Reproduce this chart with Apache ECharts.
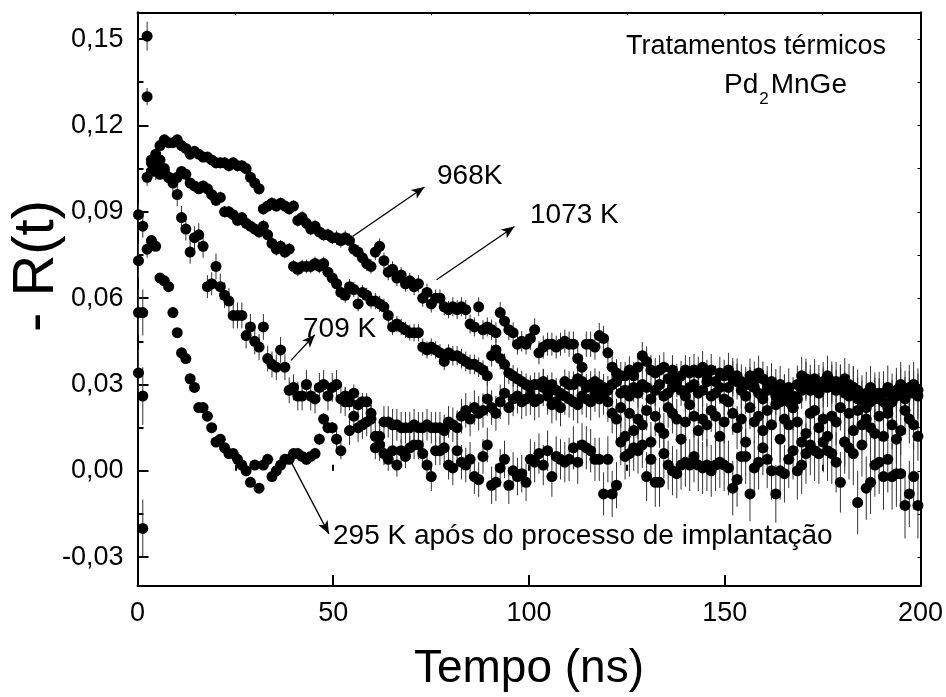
<!DOCTYPE html>
<html><head><meta charset="utf-8">
<script src="https://cdn.jsdelivr.net/npm/echarts@6/dist/echarts.min.js"></script>
<style>html,body{margin:0;padding:0;background:#fff}#c{width:946px;height:697px}</style>
</head><body><div id="c"></div>
<script>
// Time channels (ns)
const times = [
0.25,1.35,2.45,3.55,4.65,5.75,6.85,7.95,9.05,10.15,
11.25,12.35,13.45,14.55,15.65,16.75,17.85,18.95,20.05,21.15,
22.25,23.35,24.45,25.55,26.65,27.75,28.85,29.95,31.05,32.15,
33.25,34.35,35.45,36.55,37.65,38.75,39.85,40.95,42.05,43.15,
44.25,45.35,46.45,47.55,48.65,49.75,50.85,51.95,53.05,54.15,
55.25,56.35,57.45,58.55,59.65,60.75,61.85,62.95,64.05,65.15,
66.25,67.35,68.45,69.55,70.65,71.75,72.85,73.95,75.05,76.15,
77.25,78.35,79.45,80.55,81.65,82.75,83.85,84.95,86.05,87.15,
88.25,89.35,90.45,91.55,92.65,93.75,94.85,95.95,97.05,98.15,
99.25,100.35,101.45,102.55,103.65,104.75,105.85,106.95,108.05,109.15,
110.25,111.35,112.45,113.55,114.65,115.75,116.85,117.95,119.05,120.15,
121.25,122.35,123.45,124.55,125.65,126.75,127.85,128.95,130.05,131.15,
132.25,133.35,134.45,135.55,136.65,137.75,138.85,139.95,141.05,142.15,
143.25,144.35,145.45,146.55,147.65,148.75,149.85,150.95,152.05,153.15,
154.25,155.35,156.45,157.55,158.65,159.75,160.85,161.95,163.05,164.15,
165.25,166.35,167.45,168.55,169.65,170.75,171.85,172.95,174.05,175.15,
176.25,177.35,178.45,179.55,180.65,181.75,182.85,183.95,185.05,186.15,
187.25,188.35,189.45,190.55,191.65,192.75,193.85,194.95,196.05,197.15,
198.25,199.35];

// -R(t) values, 1073 K
const s1073 = [
0.055,-0.020,0.102,0.108,0.110,0.113,0.115,0.114,0.114,0.115,
0.113,0.112,0.110,0.111,0.110,0.109,0.109,0.108,0.107,0.107,
0.107,0.106,0.107,0.106,0.106,0.105,0.102,0.100,0.098,0.091,
0.092,0.093,0.092,0.093,0.092,0.091,0.092,0.087,0.088,0.086,
0.084,0.085,0.083,0.082,0.082,0.081,0.081,0.080,0.081,0.080,
0.077,0.076,0.074,0.072,0.071,0.076,0.078,0.073,0.069,0.070,
0.067,0.068,0.065,0.066,0.064,0.065,0.060,0.062,0.058,0.060,
0.060,0.057,0.056,0.057,0.056,0.057,0.056,0.051,0.050,0.057,
0.049,0.050,0.049,0.048,0.055,0.052,0.049,0.048,0.044,0.045,
0.044,0.046,0.049,0.041,0.043,0.044,0.044,0.043,0.044,0.045,
0.044,0.044,0.039,0.036,0.044,0.044,0.043,0.047,0.046,0.041,
0.036,0.034,0.033,0.033,0.035,0.033,0.036,0.040,0.038,0.035,
0.034,0.035,0.036,0.032,0.035,0.032,0.033,0.035,0.034,0.035,
0.034,0.036,0.033,0.035,0.031,0.034,0.033,0.035,0.032,0.033,
0.031,0.030,0.033,0.032,0.034,0.032,0.030,0.031,0.029,0.030,
0.027,0.024,0.022,0.025,0.028,0.031,0.030,0.032,0.030,0.031,
0.029,0.030,0.031,0.030,0.032,0.030,0.029,0.028,0.026,0.022,
0.024,0.027,0.025,0.027,0.029,0.024,0.026,0.028,0.025,0.027,
0.027,0.028];

// 968 K
const s968 = [
0.073,0.055,0.151,0.104,0.106,0.103,0.105,0.102,0.101,0.102,
0.104,0.103,0.100,0.099,0.098,0.099,0.098,0.096,0.094,0.095,
0.090,0.090,0.089,0.087,0.088,0.086,0.085,0.084,0.083,0.085,
0.082,0.079,0.077,0.078,0.076,0.077,0.071,0.070,0.071,0.071,
0.071,0.072,0.071,0.072,0.069,0.067,0.065,0.062,0.061,0.064,
0.063,0.058,0.062,0.061,0.059,0.059,0.058,0.057,0.054,0.050,
0.051,0.050,0.049,0.048,0.048,0.048,0.043,0.042,0.043,0.042,
0.041,0.038,0.041,0.040,0.040,0.039,0.038,0.037,0.037,0.036,
0.035,0.033,0.040,0.042,0.039,0.037,0.034,0.033,0.032,0.031,
0.030,0.029,0.030,0.030,0.031,0.029,0.030,0.028,0.027,0.031,
0.030,0.030,0.032,0.031,0.029,0.030,0.031,0.030,0.029,0.028,
0.030,0.031,0.027,0.028,0.026,0.029,0.027,0.030,0.029,0.025,
0.028,0.030,0.026,0.027,0.029,0.031,0.028,0.026,0.029,0.030,
0.027,0.028,0.031,0.026,0.027,0.029,0.025,0.029,0.033,0.031,
0.028,0.026,0.030,0.029,0.027,0.025,0.028,0.030,0.026,0.024,
0.027,0.029,0.026,0.030,0.033,0.032,0.028,0.030,0.027,0.029,
0.033,0.031,0.028,0.030,0.027,0.026,0.029,0.025,0.024,0.027,
0.029,0.025,0.027,0.024,0.022,0.026,0.028,0.030,0.027,0.029,
0.030,0.026];

// 709 K
const s709 = [
0.034,0.026,0.130,0.107,0.104,0.108,0.104,0.102,0.100,0.096,
0.088,0.084,0.076,0.081,0.082,0.078,0.064,0.065,0.071,0.064,
0.061,0.059,0.054,0.054,0.054,0.047,0.050,0.045,0.043,0.050,
0.039,0.037,0.036,0.042,0.036,0.028,0.029,0.026,0.026,0.030,
0.026,0.025,0.029,0.030,0.026,0.029,0.030,0.025,0.024,0.014,
0.019,0.015,0.016,0.017,0.018,0.012,0.009,0.017,0.017,0.016,
0.016,0.015,0.015,0.015,0.016,0.015,0.015,0.016,0.015,0.015,
0.015,0.014,0.017,0.016,0.015,0.019,0.021,0.018,0.022,0.020,
0.021,0.025,0.022,0.020,0.024,0.027,0.022,0.025,0.026,0.024,
0.025,0.026,0.024,0.025,0.029,0.026,0.023,0.024,0.022,0.026,
0.025,0.024,0.023,0.026,0.025,0.024,0.027,0.025,0.026,0.024,
0.020,0.018,0.022,0.012,0.020,0.014,0.018,0.016,0.021,0.010,
0.019,0.015,0.013,0.022,0.020,0.018,0.011,0.017,0.023,0.019,
0.014,0.018,0.016,0.021,0.019,0.012,0.017,0.024,0.020,0.015,
0.018,0.010,0.022,0.017,0.019,0.014,0.021,0.016,0.023,0.011,
0.018,0.016,0.022,0.017,0.010,0.013,0.020,0.021,0.015,0.018,
0.012,0.019,0.017,0.022,0.010,0.020,0.014,0.021,0.016,0.018,
0.015,0.013,0.019,0.012,0.020,0.016,0.011,0.014,0.021,0.018,
0.016,0.012];

// 295 K (after implantation)
const s295 = [
0.089,0.085,0.077,0.080,0.078,0.067,0.066,0.064,0.055,0.048,
0.041,0.039,0.032,0.029,0.022,0.022,0.019,0.015,0.010,0.011,
0.008,0.006,0.006,0.004,0.002,0.000,-0.004,0.002,-0.006,0.002,
0.004,-0.002,0.000,0.002,0.004,0.004,0.006,0.006,0.005,0.004,
0.005,0.006,0.011,0.018,0.015,0.015,0.011,0.007,0.026,0.024,
0.027,0.023,0.024,0.024,0.020,0.008,0.012,0.006,0.004,0.007,
0.002,0.007,0.005,0.008,0.009,0.009,0.006,0.002,-0.002,0.007,
0.007,0.008,0.002,0.001,0.007,0.003,0.002,0.004,-0.002,-0.003,
0.005,0.009,-0.005,-0.004,0.001,0.004,-0.005,0.000,-0.002,-0.001,
-0.004,0.004,0.003,0.006,0.002,0.007,-0.002,0.005,0.004,0.003,
0.004,0.008,0.003,0.009,0.008,0.007,0.004,0.004,-0.008,0.004,
-0.008,-0.005,0.010,0.005,0.006,0.008,0.007,0.009,-0.002,0.004,
-0.004,-0.004,0.006,0.002,0.000,-0.001,0.002,0.003,0.002,0.005,
0.002,0.001,0.002,0.000,0.002,0.003,0.002,0.001,-0.006,-0.003,
0.005,0.005,-0.008,0.001,0.003,0.008,0.004,0.000,-0.008,0.000,
-0.001,0.004,0.007,0.000,0.002,0.006,0.009,0.007,0.006,0.010,
0.007,0.006,0.003,-0.004,0.010,0.008,0.006,-0.011,0.009,-0.006,
-0.004,0.002,0.003,-0.002,0.004,-0.002,-0.001,-0.001,-0.012,-0.008,
-0.002,-0.012];

// Error half-widths: first channels, then per 10 ns block
const errEarly1073 = [0.008,0.010,0.003];
const errBlock1073 = [0.0018,0.0018,0.002,0.002,0.0022,0.0025,0.0028,0.003,0.0033,0.0036,0.004,0.0044,0.0048,0.0052,0.0056,0.006,0.0064,0.0068,0.0072,0.0076];
const errEarly968 = [0.006,0.008,0.005];
const errBlock968 = [0.0018,0.0018,0.002,0.0022,0.0024,0.0026,0.0028,0.003,0.0034,0.0038,0.0042,0.0046,0.005,0.0054,0.0058,0.0062,0.0066,0.007,0.0074,0.0078];
const errEarly709 = [0.008,0.010,0.003];
const errBlock709 = [0.003,0.004,0.0045,0.0045,0.005,0.005,0.0055,0.0055,0.006,0.006,0.0065,0.0065,0.007,0.007,0.0075,0.0075,0.008,0.008,0.0085,0.0085];
const errEarly295 = [0.004,0.004,0.003];
const errBlock295 = [0.0012,0.0012,0.0015,0.0018,0.002,0.003,0.004,0.005,0.006,0.0065,0.007,0.0075,0.008,0.0085,0.009,0.0095,0.01,0.0105,0.011,0.0115];

const yMajorTicks = [-0.03,0,0.03,0.06,0.09,0.12,0.15];
const yMinorTicks = [-0.015,0.015,0.045,0.075,0.105,0.135];

// Annotation arrows in data coordinates [t, value]
const arrows = [
  [[55.0,0.0815],[73.3,0.0986]],
  [[76.4,0.0664],[96.3,0.0849]],
  [[39.2,0.0384],[45.3,0.0473]],
  [[39.4,0.0027],[48.9,-0.0219]]
];

const FONT = '"Liberation Sans", Arial, Helvetica, sans-serif';

function build(vals, early, blocks){
  return vals.map((v,i)=>{
    const t = times[i];
    const e = i < early.length ? early[i] : blocks[Math.min(blocks.length-1, Math.floor(t/10))];
    return [t, v, e];
  });
}
const sets = [
  {name:'1073 K', d: build(s1073, errEarly1073, errBlock1073)},
  {name:'968 K', d: build(s968, errEarly968, errBlock968)},
  {name:'709 K', d: build(s709, errEarly709, errBlock709)},
  {name:'295 K', d: build(s295, errEarly295, errBlock295)}
];

const chart = echarts.init(document.getElementById('c'), null, {renderer:'canvas'});

const series = [];
sets.forEach(s=>{
  series.push({
    type:'custom', name:s.name+' err', xAxisIndex:0, yAxisIndex:0, z:1, clip:true,
    data:s.d, encode:{x:0,y:1},
    renderItem:function(params, api){
      const t=api.value(0), v=api.value(1), e=api.value(2);
      const p1=api.coord([t, v-e]), p2=api.coord([t, v+e]);
      return {type:'line', shape:{x1:p1[0],y1:p1[1],x2:p2[0],y2:p2[1]}, style:{stroke:'#333', lineWidth:1}};
    }
  });
});
sets.forEach(s=>{
  series.push({
    type:'scatter', name:s.name, xAxisIndex:0, yAxisIndex:0, z:3,
    data:s.d.map(p=>[p[0],p[1]]), symbol:'circle', symbolSize:11,
    itemStyle:{color:'#000', opacity:1}
  });
});
series.push({
  type:'scatter', name:'arrows', data:[], xAxisIndex:0, yAxisIndex:0, z:4,
  markLine:{silent:true, animation:false, symbol:['none','arrow'], symbolSize:[8,13],
    lineStyle:{color:'#000', width:1.3, type:'solid'}, label:{show:false},
    emphasis:{disabled:true},
    data: arrows.map(a=>[{coord:a[0]},{coord:a[1]}])}
});

const majorTickStyle = {color:'#000', width:2};
const fmt = v => v.toFixed(2).replace('.', ',');

function measure(text, size){
  const c = document.createElement('canvas').getContext('2d');
  c.font = size+'px '+FONT;
  return c.measureText(text).width;
}
const pdW = measure('Pd',28), subW = measure('2',17);

chart.setOption({
  animation:false,
  backgroundColor:'#fff',
  grid:{left:137.5, right:24.5, top:12.3, bottom:105, containLabel:false},
  xAxis:[
    {type:'value', position:'bottom', min:0, max:200, interval:50,
     axisLine:{show:true, onZero:false, lineStyle:{color:'#000', width:2}},
     axisTick:{show:true, inside:true, length:11, lineStyle:majorTickStyle},
     axisLabel:{show:true, color:'#000', fontSize:27, fontFamily:FONT, margin:14},
     splitLine:{show:false},
     name:'Tempo (ns)', nameLocation:'middle', nameGap:60,
     nameTextStyle:{color:'#000', fontSize:46, fontFamily:FONT}},
    {type:'value', position:'bottom', min:0, max:200, interval:25,
     axisLine:{show:false}, axisTick:{show:true, inside:true, length:6, lineStyle:majorTickStyle},
     axisLabel:{show:false}, splitLine:{show:false}},
    {type:'value', position:'top', min:0, max:200, interval:25,
     axisLine:{show:true, onZero:false, lineStyle:{color:'#000', width:2}},
     axisTick:{show:true, inside:true, length:3, lineStyle:{color:'#000', width:1}},
     axisLabel:{show:false}, splitLine:{show:false}}
  ],
  yAxis:[
    {type:'value', position:'left', min:-0.04, max:0.1593,
     axisLine:{show:true, onZero:false, lineStyle:{color:'#000', width:2}},
     axisTick:{show:true, inside:true, length:11, lineStyle:majorTickStyle, customValues:yMajorTicks},
     axisLabel:{show:true, color:'#000', fontSize:27, fontFamily:FONT, margin:14, customValues:yMajorTicks, formatter:fmt},
     splitLine:{show:false}},
    {type:'value', position:'left', min:-0.04, max:0.1593,
     axisLine:{show:false},
     axisTick:{show:true, inside:true, length:6, lineStyle:majorTickStyle, customValues:yMinorTicks},
     axisLabel:{show:false, customValues:yMinorTicks}, splitLine:{show:false}},
    {type:'value', position:'right', min:-0.04, max:0.1593,
     axisLine:{show:true, onZero:false, lineStyle:{color:'#000', width:2}},
     axisTick:{show:true, inside:true, length:3, lineStyle:{color:'#000', width:1}, customValues:yMajorTicks.concat(yMinorTicks)},
     axisLabel:{show:false, customValues:yMajorTicks.concat(yMinorTicks)}, splitLine:{show:false}}
  ],
  series: series,
  graphic:[
    {type:'text', x:37, y:266, rotation:Math.PI/2,
     style:{text:'- R(t)', font:'58px '+FONT, fill:'#000', textAlign:'center', textVerticalAlign:'middle'}},
    {type:'text', x:756, y:47,
     style:{text:'Tratamentos térmicos', font:'27px '+FONT, fill:'#000', textAlign:'center', textVerticalAlign:'middle'}},
    {type:'text', x:724, y:85,
     style:{text:'Pd', font:'28px '+FONT, fill:'#000', textAlign:'left', textVerticalAlign:'middle'}},
    {type:'text', x:724+pdW+1, y:99,
     style:{text:'2', font:'17px '+FONT, fill:'#000', textAlign:'left', textVerticalAlign:'middle'}},
    {type:'text', x:724+pdW+subW+3, y:85,
     style:{text:'MnGe', font:'28px '+FONT, fill:'#000', textAlign:'left', textVerticalAlign:'middle'}},
    {type:'text', x:437, y:176,
     style:{text:'968K', font:'28px '+FONT, fill:'#000', textAlign:'left', textVerticalAlign:'middle'}},
    {type:'text', x:530, y:215,
     style:{text:'1073 K', font:'28px '+FONT, fill:'#000', textAlign:'left', textVerticalAlign:'middle'}},
    {type:'text', x:303, y:329,
     style:{text:'709 K', font:'28px '+FONT, fill:'#000', textAlign:'left', textVerticalAlign:'middle'}},
    {type:'text', x:333, y:536,
     style:{text:'295 K após do processo de implantação', font:'28px '+FONT, fill:'#000', textAlign:'left', textVerticalAlign:'middle'}}
  ]
});
</script>
</body></html>
